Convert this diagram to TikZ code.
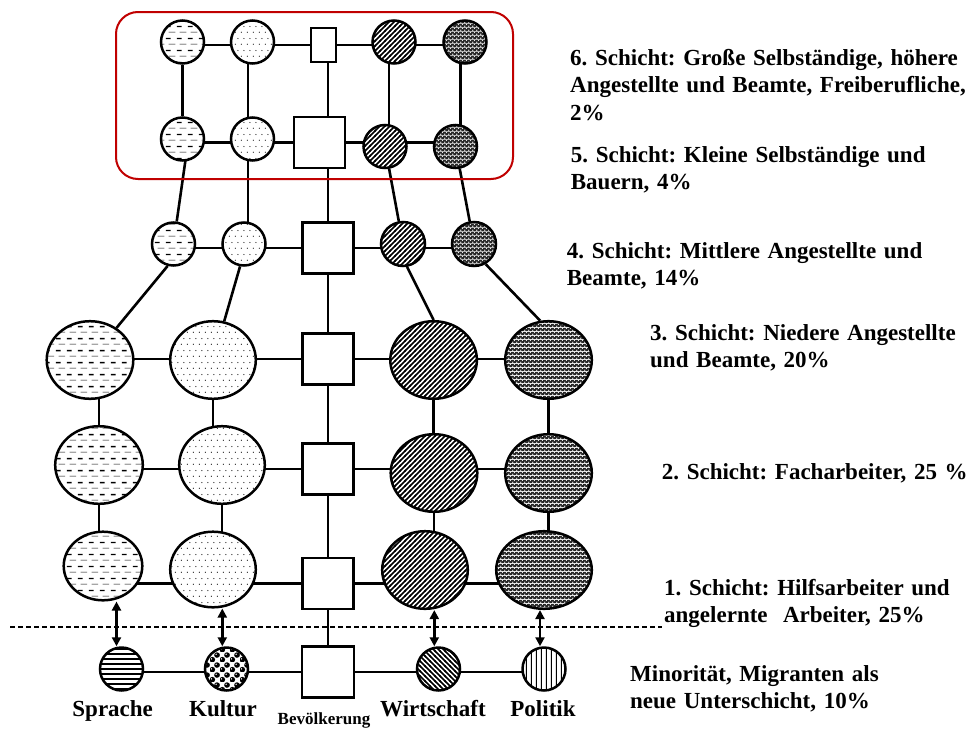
\documentclass[tikz,border=0pt]{standalone}
\usepackage{fontspec}
\setmainfont{Liberation Serif}
\usetikzlibrary{shapes.geometric,arrows.meta,patterns,backgrounds}
\frenchspacing

% ---------- fill patterns for the five columns ----------
% Sprache: rows of thick and thin dashes
\pgfdeclarepatternformonly{dashrows}{\pgfpointorigin}{\pgfpoint{11pt}{12pt}}{\pgfpoint{11pt}{12pt}}{%
  \pgfsetlinewidth{1.4pt}%
  \pgfpathmoveto{\pgfpoint{1pt}{9pt}}\pgfpathlineto{\pgfpoint{6pt}{9pt}}%
  \pgfusepath{stroke}%
  \pgfsetlinewidth{0.6pt}%
  \pgfpathmoveto{\pgfpoint{4pt}{3pt}}\pgfpathlineto{\pgfpoint{11pt}{3pt}}%
  \pgfusepath{stroke}}
% Kultur: sparse staggered dots
\pgfdeclarepatternformonly{finedots}{\pgfpointorigin}{\pgfpoint{6pt}{12pt}}{\pgfpoint{6pt}{12pt}}{%
  \pgfpathcircle{\pgfpoint{1.5pt}{3pt}}{0.65pt}%
  \pgfpathcircle{\pgfpoint{4.5pt}{9pt}}{0.65pt}%
  \pgfusepath{fill}}
% Wirtschaft: dense rising stripes
\pgfdeclarepatternformonly{risestripes}{\pgfpoint{-1pt}{-1pt}}{\pgfpoint{6pt}{6pt}}{\pgfpoint{5pt}{5pt}}{%
  \pgfsetlinewidth{1.6pt}%
  \pgfpathmoveto{\pgfpoint{-1pt}{-1pt}}\pgfpathlineto{\pgfpoint{6pt}{6pt}}%
  \pgfusepath{stroke}}
% Politik: dark mesh with light specks
\pgfdeclarepatterninherentlycolored{darkmesh}{\pgfpointorigin}{\pgfpoint{4pt}{4pt}}{\pgfpoint{4pt}{4pt}}{%
  \pgfsetfillcolor{black!85}%
  \pgfpathrectangle{\pgfpointorigin}{\pgfpoint{4pt}{4pt}}%
  \pgfusepath{fill}%
  \pgfsetfillcolor{white}%
  \pgfpathcircle{\pgfpoint{1pt}{1pt}}{0.85pt}%
  \pgfpathcircle{\pgfpoint{3pt}{3pt}}{0.7pt}%
  \pgfusepath{fill}}
% bottom row: horizontal bars
\pgfdeclarepatternformonly{hbars}{\pgfpoint{0pt}{0pt}}{\pgfpoint{1pt}{4.5pt}}{\pgfpoint{1pt}{4.5pt}}{%
  \pgfsetlinewidth{2pt}%
  \pgfpathmoveto{\pgfpoint{-1pt}{2.25pt}}\pgfpathlineto{\pgfpoint{2pt}{2.25pt}}%
  \pgfusepath{stroke}}
% bottom row: checker of beads
\pgfdeclarepatterninherentlycolored{beads}{\pgfpointorigin}{\pgfpoint{10pt}{10pt}}{\pgfpoint{10pt}{10pt}}{%
  \pgfsetfillcolor{white}%
  \pgfpathrectangle{\pgfpointorigin}{\pgfpoint{10pt}{10pt}}%
  \pgfusepath{fill}%
  \pgfsetfillcolor{black}%
  \pgfpathcircle{\pgfpoint{2.5pt}{2.5pt}}{3pt}%
  \pgfpathcircle{\pgfpoint{7.5pt}{7.5pt}}{3pt}%
  \pgfusepath{fill}%
  \pgfsetfillcolor{white}%
  \pgfpathcircle{\pgfpoint{1.6pt}{3.4pt}}{0.8pt}%
  \pgfpathcircle{\pgfpoint{6.6pt}{8.4pt}}{0.8pt}%
  \pgfusepath{fill}}
% bottom row: falling stripes
\pgfdeclarepatternformonly{fallstripes}{\pgfpoint{-1pt}{-1pt}}{\pgfpoint{6pt}{6pt}}{\pgfpoint{5pt}{5pt}}{%
  \pgfsetlinewidth{1.5pt}%
  \pgfpathmoveto{\pgfpoint{-1pt}{6pt}}\pgfpathlineto{\pgfpoint{6pt}{-1pt}}%
  \pgfusepath{stroke}}
% bottom row: vertical bars
\pgfdeclarepatternformonly{vbars}{\pgfpointorigin}{\pgfpoint{5.3pt}{1pt}}{\pgfpoint{5.3pt}{1pt}}{%
  \pgfsetlinewidth{1.2pt}%
  \pgfpathmoveto{\pgfpoint{2.65pt}{-1pt}}\pgfpathlineto{\pgfpoint{2.65pt}{2pt}}%
  \pgfusepath{stroke}}

\definecolor{framered}{RGB}{192,0,0}

\begin{document}
\begin{tikzpicture}[x=1pt,y=-1pt,
  orb/.style={ellipse, draw, line width=2.5pt, inner sep=0pt, preaction={fill=white}},
  spr/.style={orb, pattern=dashrows},
  kul/.style={orb, pattern=finedots},
  wir/.style={orb, pattern=risestripes},
  pol/.style={orb, pattern=darkmesh},
  sq/.style={rectangle, draw, fill=white, line width=2.5pt, inner sep=0pt,
             minimum width=51pt, minimum height=51pt},
  link/.style={line width=2.6pt},
  dbl/.style={line width=2.6pt, {Triangle[length=9pt,width=9pt]}-{Triangle[length=9pt,width=9pt]}},
  divider/.style={line width=2pt, dash pattern=on 5pt off 3pt},
  layer/.style={font=\fontsize{23}{27.5}\selectfont\bfseries, anchor=base west,
                align=left, text width=420pt, inner sep=0pt},
  colname/.style={font=\fontsize{23}{27.5}\selectfont\bfseries, anchor=base, inner sep=0pt},
  c/.style={minimum width=#1pt, minimum height=#1pt}
]
\useasboundingbox (0,0) rectangle (977,731);

% ---------- layer 6 ----------
\node[spr, c=43] (s6) at (182.5,42) {};
\node[kul, c=43] (k6) at (252.5,42) {};
\node[sq, minimum width=24.6pt, minimum height=33.6pt] (m6) at (323.5,45) {};
\node[wir, c=43] (w6) at (394,42) {};
\node[pol, c=43] (p6) at (465,42) {};

% ---------- layer 5 ----------
\node[spr, c=43] (s5) at (182.5,139) {};
\node[kul, c=43] (k5) at (252.5,139) {};
\node[sq] (m5) at (319.5,142.5) {};
\node[wir, c=43] (w5) at (385,146.5) {};
\node[pol, c=43] (p5) at (455.5,146.5) {};

% ---------- layer 4 ----------
\node[spr, c=43] (s4) at (173.5,244) {};
\node[kul, c=43] (k4) at (244,244) {};
\node[sq] (m4) at (328,248) {};
\node[wir, c=44] (w4) at (403,244) {};
\node[pol, c=44] (p4) at (474,244) {};

% ---------- layer 3 ----------
\node[spr, minimum width=86.6pt, minimum height=77.6pt] (s3) at (90,360) {};
\node[kul, minimum width=85.6pt, minimum height=77.6pt] (k3) at (213,360) {};
\node[sq] (m3) at (328,359) {};
\node[wir, minimum width=86.6pt, minimum height=77.6pt] (w3) at (433.6,360) {};
\node[pol, minimum width=86.6pt, minimum height=77.6pt] (p3) at (548.5,360) {};

% ---------- layer 2 ----------
\node[spr, minimum width=87.6pt, minimum height=77.6pt] (s2) at (99,465) {};
\node[kul, minimum width=85.6pt, minimum height=77.6pt] (k2) at (222,465) {};
\node[sq] (m2) at (328,469) {};
\node[wir, minimum width=86.6pt, minimum height=77.6pt] (w2) at (434,473) {};
\node[pol, minimum width=86.6pt, minimum height=77.6pt] (p2) at (548.5,473) {};

% ---------- layer 1 ----------
\node[spr, minimum width=78.6pt, minimum height=68.6pt] (s1) at (103,566) {};
\node[kul, minimum width=85.6pt, minimum height=75.6pt] (k1) at (213,569.5) {};
\node[sq] (m1) at (328,583.5) {};
\node[wir, minimum width=85.6pt, minimum height=77.6pt] (w1) at (425,570) {};
\node[pol, minimum width=95.6pt, minimum height=77.6pt] (p1) at (544,570) {};

% ---------- minority row ----------
\node[orb, pattern=hbars, c=43] (s0) at (121.5,669) {};
\node[orb, pattern=beads, c=43] (k0) at (226.5,669) {};
\node[sq, minimum width=51.6pt] (m0) at (328,672) {};
\node[orb, pattern=fallstripes, c=43] (w0) at (438.5,669) {};
\node[orb, pattern=vbars, c=43] (p0) at (544,669) {};

% ---------- connectors ----------
\begin{scope}[on background layer]
  % horizontal links of every layer
  \foreach \r in {0,...,6}{
    \draw[link] (s\r |- m\r) -- (p\r |- m\r);
  }
  % central population axis
  \draw[link] ([xshift=4.5pt]m6.center) -- (m0.center);
  % layer 6 to 5
  \draw[link] (s6) -- (s5);
  \draw[link] ([xshift=-4.5pt]k6.center) -- ([xshift=-4.5pt]k5.center);
  \draw[link] ([xshift=-5pt]w6.center) -- ([xshift=4pt]w5.center);
  \draw[link] ([xshift=-4.3pt]p6.center) -- ([xshift=5.2pt]p5.center);
  % layer 5 to 4
  \draw[link] ([xshift=6pt]s5.center) -- (s4);
  \draw[link] ([xshift=-4.5pt]k5.center) -- ([xshift=4pt]k4.center);
  \draw[link] (w5) -- (w4);
  \draw[link] (p5) -- (p4);
  % layer 4 to 3
  \draw[link] (s4.-105) -- (s3);
  \draw[link] (k4.-100) -- (k3);
  \draw[link] (w4.-80) -- (w3.north);
  \draw[link] (p4.-60) -- (p3.102);
  % layer 3 to 2
  \draw[link] (s2 |- s3) -- (s2);
  \draw[link] (k3) -- (k3 |- k2);
  \draw[link] (w3) -- (w3 |- w2);
  \draw[link] (p3) -- (p3 |- p2);
  % layer 2 to 1
  \draw[link] (s2) -- (s2 |- s1);
  \draw[link] (k2) -- (k2 |- k1);
  \draw[link] (w2) -- (w2 |- w1);
  \draw[link] (p2) -- (p2 |- p1);
\end{scope}

% upper class frame
\draw[framered, line width=2pt, rounded corners=22pt] (116,12) rectangle (513,179);

% boundary of the old society
\coordinate (dl) at (10,627);
\coordinate (dr) at (662,627);
\draw[divider] (dl) -- (dr);

% exchange between minority and layer 1
\coordinate (xs) at (116.5,0);
\coordinate (xk) at (222.3,0);
\coordinate (xw) at (434.3,0);
\coordinate (xp) at (540,0);
\draw[dbl] (s1.south -| xs) -- (s0.north -| xs);
\draw[dbl] (k1.south -| xk) -- (k0.north -| xk);
\draw[dbl] (w1.south -| xw) -- (w0.north -| xw);
\draw[dbl] (p1.south -| xp) -- (p0.north -| xp);

% column names
\node[colname] (ls) at (112.7,716) {Sprache};
\node[colname] (lk) at (223,716) {Kultur};
\node[colname] (lw) at (433,716) {Wirtschaft};
\node[colname] (lp) at (543,716) {Politik};
\node[colname, font=\fontsize{17}{20}\selectfont\bfseries] (lb) at (324,724) {Bevölkerung};

% layer descriptions
\node[layer] (t6) at (570,65) {6. Schicht: Große Selbständige, höhere\\Angestellte und Beamte, Freiberufliche,\\2\%};
\node[layer] (t5) at (570.7,162.3) {5. Schicht: Kleine Selbständige und\\Bauern, 4\%};
\node[layer] (t4) at (566.7,258) {4. Schicht: Mittlere Angestellte und\\Beamte, 14\%};
\node[layer] (t3) at (650,340) {3. Schicht: Niedere Angestellte\\und Beamte, 20\%};
\node[layer] (t2) at (661.7,479) {2. Schicht: Facharbeiter, 25 \%};
\node[layer] (t1) at (664,595) {1. Schicht: Hilfsarbeiter und\\angelernte\ \ Arbeiter, 25\%};
\node[layer] (t0) at (630,681) {Minorität, Migranten als\\neue Unterschicht, 10\%};
\end{tikzpicture}
\end{document}
